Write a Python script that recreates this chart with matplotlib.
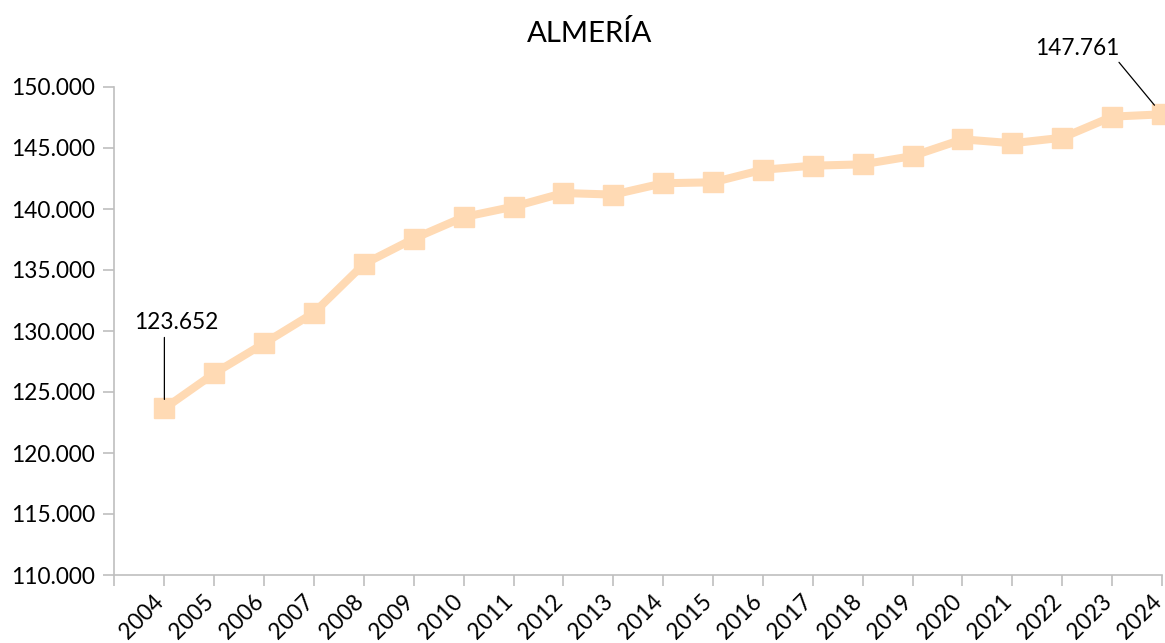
import matplotlib
matplotlib.use("Agg")
import matplotlib.pyplot as plt
import matplotlib.transforms as mtransforms
import numpy as np

years = ["2004", "2005", "2006", "2007", "2008", "2009", "2010", "2011", "2012", "2013",
         "2014", "2015", "2016", "2017", "2018", "2019", "2020", "2021", "2022", "2023", "2024"]
values = [123652, 126530, 128990, 131500, 135490, 137570, 139340, 140190, 141310, 141180,
          142110, 142190, 143220, 143550, 143660, 144340, 145710, 145390, 145840, 147570, 147761]
y_ticks = [110000, 115000, 120000, 125000, 130000, 135000, 140000, 145000, 150000]
title = "ALMERÍA"

def fmt(v):
    return f"{v:,.0f}".replace(",", ".")

plt.rcParams['font.family'] = ['Lato', 'DejaVu Sans']

W, H, DPI = 1165, 643, 100
fig = plt.figure(figsize=(W / DPI, H / DPI), dpi=DPI)
ax = fig.add_axes([114.5 / W, 1 - 575 / H, (1162 - 114.5) / W, (575 - 87) / H])

x = np.arange(len(years))
color = "#FFDAB4"
ax.plot(x, values, color=color, lw=5.8, marker="s", markersize=14.5,
        markerfacecolor=color, markeredgecolor=color, solid_joinstyle="miter", zorder=3, clip_on=False)

ax.set_xlim(-1, len(years) - 1)
ax.set_ylim(y_ticks[0], y_ticks[-1])
ax.set_yticks(y_ticks)
ax.set_yticklabels([fmt(v) for v in y_ticks])
ax.set_xticks(np.arange(-1, len(years)))
ax.set_xticklabels([""] + years, rotation=45, ha="right", va="center", rotation_mode="anchor")

for s in ["top", "right"]:
    ax.spines[s].set_visible(False)
for s in ["left", "bottom"]:
    ax.spines[s].set_color("#BFBFBF")
    ax.spines[s].set_linewidth(1.2)
ax.tick_params(axis="both", colors="#BFBFBF", length=8, width=1.2, labelcolor="black", labelsize=16.3)
ax.tick_params(axis="x", pad=9)
ax.tick_params(axis="y", pad=5.8)

shift = mtransforms.ScaledTranslation(-4 / DPI, 0, fig.dpi_scale_trans)
for lab in ax.get_xticklabels():
    lab.set_transform(lab.get_transform() + shift)

fig.text(590 / W, 1 - 33 / H, title, ha="center", va="center", fontsize=21.2)

# data labels
ax.annotate(fmt(values[0]), xy=(x[0], values[0]), xytext=(12, 86), textcoords="offset pixels",
            ha="center", va="center", fontsize=16.3)
ax.annotate("", xy=(x[0], values[0]), xytext=(0, 71), textcoords="offset pixels",
            arrowprops=dict(arrowstyle="-", color="black", lw=0.9, shrinkA=0, shrinkB=6.5))
ax.annotate(fmt(values[-1]), xy=(x[-1], values[-1]), xytext=(-85, 66), textcoords="offset pixels",
            ha="center", va="center", fontsize=16.3)
ax.annotate("", xy=(x[-1], values[-1]), xytext=(-43, 52), textcoords="offset pixels",
            arrowprops=dict(arrowstyle="-", color="black", lw=0.9, shrinkA=0, shrinkB=8.5))

fig.savefig("out.png", dpi=DPI)
